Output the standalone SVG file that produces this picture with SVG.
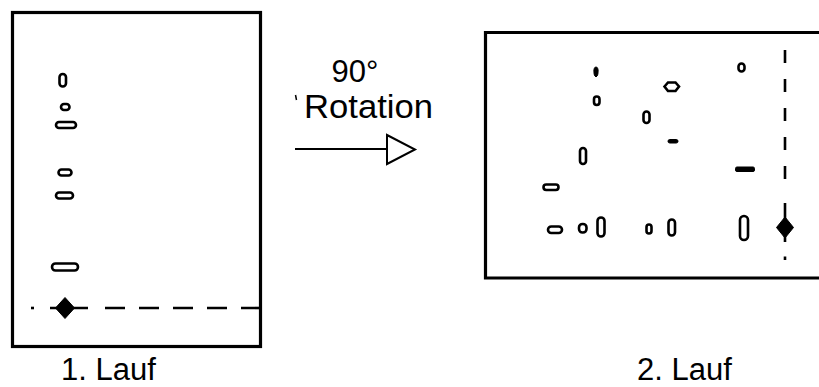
<svg xmlns="http://www.w3.org/2000/svg" width="819" height="387" viewBox="0 0 819 387">
<style>
  .frame { fill: none; stroke: #000; stroke-width: 3.2; }
  .spot { fill: #fff; stroke: #000; stroke-width: 2.6; }
  .solid { fill: #000; stroke: #000; stroke-width: 1; }
  .dash { stroke: #000; stroke-width: 2.6; fill: none; }
  .lbl { font-family: "Liberation Sans", Arial, sans-serif; fill: #000; }
</style>
<rect width="819" height="387" fill="#fff"/>

<g id="lauf1">
  <rect class="frame" x="12.5" y="12.5" width="248" height="334"/>
  <rect class="spot" x="59.5" y="74" width="6.5" height="12.5" rx="3.25"/>
  <rect class="spot" x="61" y="104" width="8.5" height="6" rx="3"/>
  <rect class="spot" x="56" y="122" width="20" height="6" rx="3"/>
  <rect class="spot" x="58.5" y="169.5" width="13" height="6" rx="3"/>
  <rect class="spot" x="56" y="192.5" width="17" height="6" rx="3"/>
  <rect class="spot" x="52" y="263.5" width="26" height="7" rx="3.5"/>
  <line class="dash" x1="31" y1="308" x2="34" y2="308"/>
  <line class="dash" x1="50" y1="308" x2="88" y2="308"/>
  <line class="dash" x1="105" y1="308" x2="262" y2="308" stroke-dasharray="20,14"/>
  <polygon class="solid" points="65,297.5 74.5,308 65,318.5 55.5,308"/>
  <text class="lbl" x="61" y="380" font-size="31">1. Lauf</text>
</g>

<g id="lauf2">
  <path class="frame" d="M830,32.5 H485.5 V278 H830"/>
  <path class="solid" d="M596,67 C598.5,67 598.5,72 597.5,75.5 L596,77 L594.5,75.5 C593.5,72 593.5,67 596,67 Z"/>
  <rect class="spot" x="594" y="96.5" width="5.5" height="8.5" rx="2.75"/>
  <path class="spot" d="M664.5,86.5 L668,82.5 H675.5 L679,86.5 L675.5,91 H668 Z"/>
  <rect class="spot" x="643.5" y="111.5" width="6" height="11.5" rx="3"/>
  <rect class="solid" x="668" y="139.5" width="10" height="3.5" rx="1.75"/>
  <rect class="spot" x="738.5" y="63.5" width="6" height="8" rx="3"/>
  <rect class="spot" x="580" y="148" width="6" height="16" rx="3"/>
  <rect class="solid" x="735.5" y="167" width="19" height="4.5" rx="1.5"/>
  <rect class="spot" x="543.5" y="184.5" width="15" height="5.5" rx="2.75"/>
  <rect class="spot" x="548" y="226.5" width="14" height="6.5" rx="3.25"/>
  <rect class="spot" x="579" y="224" width="7.5" height="8.5" rx="3.5"/>
  <rect class="spot" x="597.5" y="217.5" width="7" height="19" rx="3.5"/>
  <rect class="spot" x="646.5" y="224.5" width="5" height="9" rx="2.5"/>
  <rect class="spot" x="668.5" y="219.5" width="6.5" height="16" rx="3.25"/>
  <rect class="spot" x="740" y="216" width="8" height="24" rx="4"/>
  <line class="dash" x1="785" y1="50" x2="785" y2="190" stroke-dasharray="13,16"/>
  <line class="dash" x1="785" y1="203" x2="785" y2="242"/>
  <line class="dash" x1="785" y1="256.5" x2="785" y2="260"/>
  <polygon class="solid" points="785,217 793.5,227.5 785,238 776.5,227.5"/>
  <text class="lbl" x="637" y="380" font-size="31">2. Lauf</text>
</g>

<g id="rotation-label">
  <text class="lbl" x="355" y="82" font-size="31" text-anchor="middle">90°</text>
  <line x1="295.5" y1="95" x2="296.5" y2="100" stroke="#000" stroke-width="1.5"/>
  <text class="lbl" x="304" y="118" font-size="33" textLength="129" lengthAdjust="spacingAndGlyphs">Rotation</text>
</g>

<g id="connectors">
  <line x1="295" y1="149" x2="387" y2="149" stroke="#000" stroke-width="2"/>
  <polygon points="387,135 415,149.5 387,164" fill="#fff" stroke="#000" stroke-width="2" stroke-linejoin="miter"/>
</g>
</svg>
